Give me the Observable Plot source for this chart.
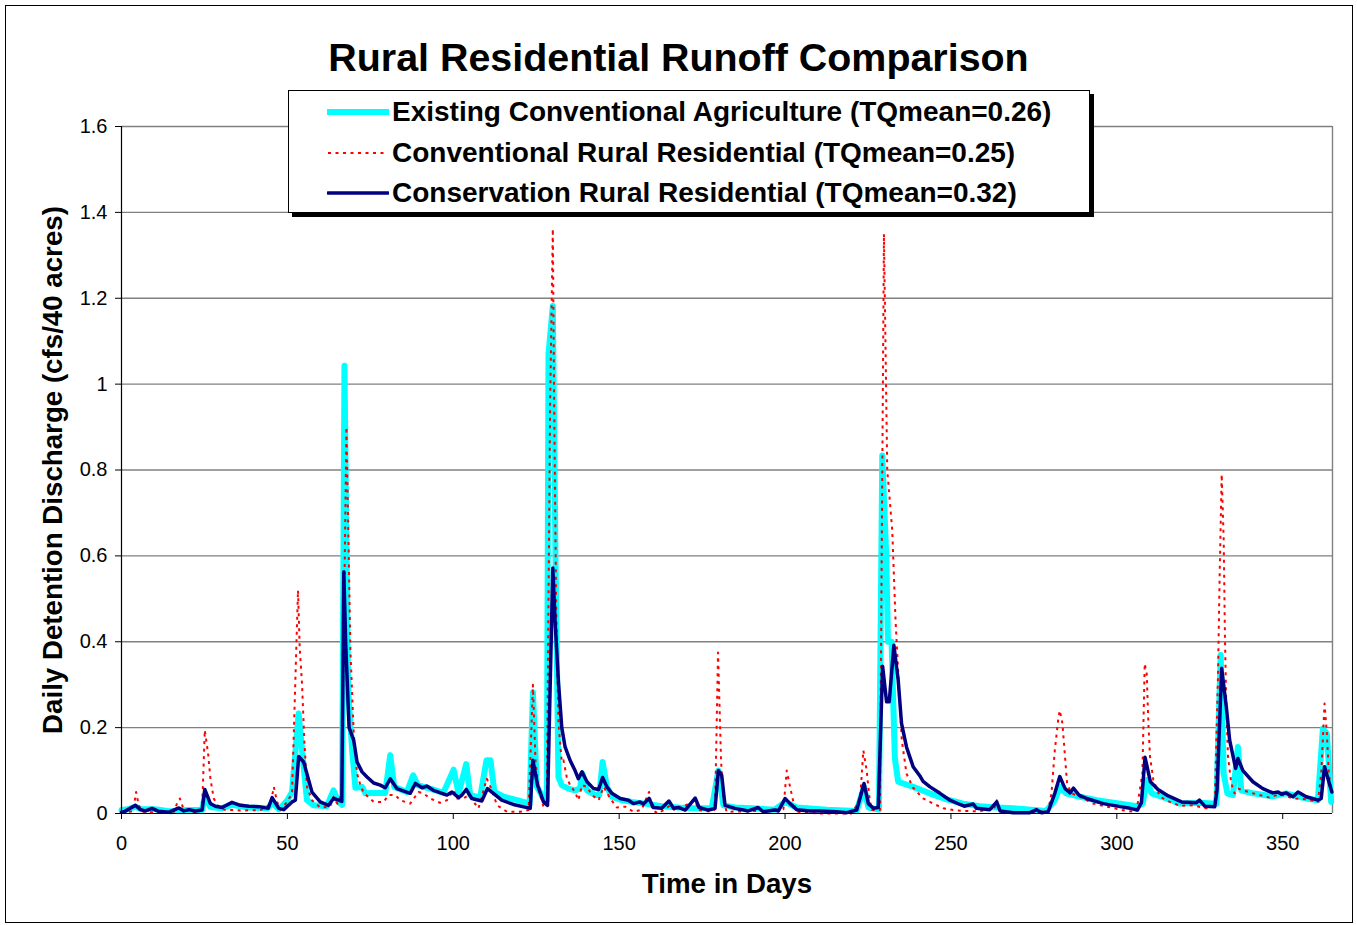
<!DOCTYPE html>
<html><head><meta charset="utf-8">
<script src="https://cdn.jsdelivr.net/npm/d3@7"></script>
<script src="https://cdn.jsdelivr.net/npm/@observablehq/plot@0.6"></script>
<style>
body{margin:0;background:#fff;}
#wrap{position:relative;width:1357px;height:925px;font-family:"Liberation Sans",Arial,sans-serif;color:#000;overflow:hidden;}
#border{position:absolute;left:5px;top:5px;width:1346px;height:916px;border:1px solid #000;pointer-events:none;}
#title{position:absolute;left:0;width:1357px;top:38px;text-align:center;font-weight:bold;font-size:39.4px;line-height:39.4px;white-space:nowrap;}
#legend{position:absolute;left:288px;top:90px;width:800px;height:121px;background:#fff;border:1px solid #000;box-shadow:4px 4px 0 #000;}
.row{position:absolute;left:0;height:28px;line-height:28px;font-weight:bold;font-size:28px;white-space:nowrap;}
.row svg{position:absolute;left:38px;top:0;}
.row span{position:absolute;left:103px;top:0;}
#chart{position:absolute;left:0;top:0;}
</style></head>
<body>
<div id="wrap">
  <div id="chart"></div>
  <div id="title">Rural Residential Runoff Comparison</div>
  <div id="legend"></div>
  <div id="border"></div>
</div>
<script>
// ---- Data ----
const seriesNames = [
  "Existing Conventional Agriculture (TQmean=0.26)",
  "Conventional Rural Residential (TQmean=0.25)",
  "Conservation Rural Residential (TQmean=0.32)"
];
const xTicks = [0, 50, 100, 150, 200, 250, 300, 350];
const yTicks = [0, 0.2, 0.4, 0.6, 0.8, 1.0, 1.2, 1.4, 1.6];
const yTickLabels = ["0", "0.2", "0.4", "0.6", "0.8", "1", "1.2", "1.4", "1.6"];

// Existing Conventional Agriculture (cyan)
const agDays = [0,2,4.2,6,10,15,20,24.3,25.1,26.8,30,33.3,38,44,45.4,47.5,50,51.4,53.4,54.9,55.9,57.9,61.9,63.9,65.4,66.5,67.2,68.3,69.5,70.5,72.5,73.5,76,79.5,81,82.2,86,87.9,89.3,93,97,100.1,101.6,103.9,105.1,108.1,110,111.2,112.4,115.2,119.2,123,124,125.2,127.2,128.2,128.7,130,130.8,131.7,132.7,134.7,136.7,138.2,138.9,140.3,142.8,144,145,146.3,147.8,150.8,153.8,157.8,162.8,167.9,172.9,177.9,179.9,181.4,184.9,189.9,196.9,200,203.5,212.6,221.6,223.8,225.1,228.3,229.3,230.5,231,232.1,233.1,234.1,238.6,243.6,248.7,253.7,258.7,263.8,268.8,278.8,281.3,282.8,284.7,288.9,293.9,299,306,307.8,309,310.5,315,319,324.9,330,331.3,332.2,333.3,335,336.5,337.5,341,347,351,357.1,360.6,362.1,363.3,364.6];
const agValues = [0.008,0.01,0.016,0.01,0.01,0.005,0.008,0.008,0.04,0.015,0.012,0.02,0.014,0.012,0.025,0.01,0.031,0.05,0.233,0.109,0.031,0.019,0.017,0.054,0.027,0.02,1.043,0.29,0.15,0.06,0.062,0.047,0.048,0.048,0.136,0.062,0.05,0.089,0.066,0.058,0.048,0.102,0.047,0.115,0.043,0.037,0.124,0.124,0.05,0.039,0.031,0.023,0.282,0.063,0.035,0.03,1.07,1.182,0.6,0.085,0.066,0.058,0.054,0.058,0.093,0.054,0.043,0.043,0.12,0.062,0.039,0.031,0.027,0.023,0.017,0.014,0.012,0.012,0.1,0.019,0.014,0.012,0.009,0.027,0.014,0.009,0.006,0.062,0.014,0.009,0.834,0.6,0.4,0.4,0.128,0.074,0.062,0.047,0.033,0.023,0.017,0.014,0.012,0.006,0.031,0.062,0.047,0.039,0.031,0.025,0.017,0.023,0.078,0.047,0.035,0.023,0.025,0.023,0.369,0.093,0.047,0.043,0.155,0.054,0.047,0.04,0.047,0.035,0.031,0.198,0.186,0.027];

// Conventional Rural Residential (red dotted)
const convDays = [0,3.5,4.4,5.2,6.2,10,15.8,16.8,17.6,18.8,22,24.3,25.1,26.1,26.8,27.8,29.3,31,36,41.9,44.9,45.9,46.9,47.9,49.9,51.4,53.2,53.7,54.4,55.1,55.9,57.4,59.9,62.9,63.9,65.1,66.4,67.8,69,70,71,72,73,76,79,80.5,82.5,84,87,89.5,91,93,96,98.1,100.1,101.1,103.1,104.6,107.6,110.1,111.2,113.2,116.2,120.2,122.7,124,124.8,125.8,127.2,128.2,129.2,130,130.4,131,131.7,132.7,133.2,134.2,135.2,136.7,137.7,138.8,140.3,141.8,143.8,145.3,147.3,149.3,151.8,154.3,156.8,159,160,161.8,165.4,166.9,172.9,173.9,177.9,178.9,179.8,180.7,181.4,182.4,192.5,199.5,200.5,201.5,202.5,203.5,210,220,222.6,223.6,224.6,225.4,226.1,228.6,229.8,230.8,232.3,233.3,234.3,235.2,236.6,238.6,241.6,244.7,247.7,250.7,253.7,258,263,263.8,264.8,270,279.3,280.3,281.3,282.3,282.8,283.6,284.3,285,286.3,288.9,292.9,296.9,302.9,305.9,307.7,308.4,309,309.5,310,311,313,316,319,322.9,327,329.5,330.5,331,331.6,332.2,332.6,333,333.5,334.5,335.5,336.5,338,341,346,349,353.1,357.1,360.6,361.6,362.6,363.3,363.9,364.6];
const convValues = [0.002,0.005,0.05,0.019,0.004,0.002,0.004,0.025,0.035,0.008,0.003,0.01,0.194,0.14,0.081,0.035,0.014,0.009,0.007,0.008,0.02,0.062,0.027,0.009,0.027,0.047,0.52,0.388,0.303,0.171,0.062,0.031,0.014,0.016,0.039,0.023,0.047,0.9,0.38,0.186,0.093,0.066,0.048,0.027,0.027,0.043,0.043,0.031,0.023,0.05,0.047,0.035,0.025,0.031,0.054,0.035,0.035,0.043,0.012,0.081,0.062,0.019,0.004,0.004,0.008,0.3,0.119,0.053,0.016,0.03,0.96,1.362,0.96,0.49,0.21,0.12,0.124,0.085,0.066,0.05,0.031,0.066,0.062,0.043,0.031,0.062,0.035,0.014,0.016,0.004,0.009,0.05,0.008,0,0.019,0.006,0.031,0.008,0.004,0.01,0.375,0.124,0.031,0.004,0.006,0.01,0.1,0.062,0.027,0.004,0,0,0.031,0.147,0.1,0.039,0.008,0.008,1.35,0.8,0.66,0.45,0.3,0.17,0.093,0.06,0.035,0.023,0.012,0.008,0.006,0.005,0.01,0.031,0.004,0.002,0.006,0.047,0.147,0.217,0.24,0.21,0.14,0.07,0.047,0.039,0.023,0.016,0.006,0.004,0.093,0.349,0.326,0.21,0.132,0.078,0.039,0.027,0.018,0.019,0.012,0.019,0.326,0.56,0.79,0.636,0.404,0.248,0.132,0.07,0.047,0.058,0.054,0.047,0.037,0.045,0.035,0.033,0.027,0.093,0.256,0.186,0.093,0.054];

// Conservation Rural Residential (navy)
const consDays = [0,1,4.2,5.7,7.2,9.2,11.2,14.3,17.3,18.8,20.3,22.3,24.3,25.1,26.8,28.3,30.3,33.3,35.8,38.4,41.4,44.2,45.4,47.4,48.9,51.4,52.4,53.4,54.9,57.4,59.9,62.4,63.9,65.5,66.4,67,67.6,68.6,70,71,72.5,74,76,78,79.5,81,83,87,88.6,90.6,92,94,96.6,98.1,99.6,101.6,102.6,103.9,105.6,108.6,110.3,112.1,114.6,118.1,123.2,124,125.4,127.2,128.4,130,130.7,131.7,132.7,133.7,135.2,136.7,137.7,138.8,140.3,142.3,143.8,145,146.3,147.8,150.3,152.8,154.3,156.3,157.3,159,160.3,162.8,165,166.4,167.9,169.9,172.9,174.1,176.9,178.9,179.9,180.9,181.9,184.9,188.9,191.9,193.4,196.9,198,200,201.5,203.5,207.5,210.5,215.6,218.6,221.6,223.8,225.1,226.6,228.1,229.4,230.6,231.4,232.8,234.1,235.1,236.6,237.6,238.6,240.6,241.6,243.7,246.7,249.7,252.7,254,256.7,257.7,261.7,263.8,264.8,268.8,273.8,275.8,277.3,279.3,281.3,282.8,284.4,285.9,286.9,288.6,290.9,295.9,301,304,306.2,307.4,308.5,310.1,312.4,315.5,319.5,323.9,324.9,326.5,329.5,330.2,331.6,333,334,335.8,336.5,338,341,344,347,348.6,349.6,351,353.1,354.6,357.1,360.6,361.6,362.6,364.8];
const consValues = [0.003,0.005,0.019,0.009,0.006,0.012,0.005,0.003,0.013,0.006,0.009,0.006,0.008,0.056,0.023,0.017,0.014,0.026,0.019,0.017,0.016,0.012,0.037,0.012,0.009,0.027,0.031,0.133,0.12,0.05,0.027,0.019,0.035,0.031,0.028,0.563,0.39,0.2,0.17,0.12,0.097,0.085,0.071,0.066,0.06,0.081,0.058,0.047,0.07,0.06,0.064,0.054,0.047,0.043,0.05,0.037,0.043,0.056,0.035,0.029,0.058,0.047,0.031,0.021,0.012,0.124,0.066,0.027,0.019,0.572,0.446,0.306,0.2,0.155,0.124,0.1,0.081,0.097,0.074,0.058,0.056,0.084,0.062,0.047,0.035,0.031,0.023,0.027,0.022,0.035,0.014,0.012,0.029,0.012,0.014,0.008,0.036,0.014,0.008,0.012,0.1,0.089,0.019,0.012,0.006,0.014,0.004,0.008,0.006,0.035,0.023,0.009,0.006,0.006,0.004,0.002,0.008,0.07,0.023,0.012,0.014,0.343,0.26,0.26,0.392,0.31,0.21,0.155,0.132,0.109,0.088,0.075,0.062,0.047,0.031,0.021,0.017,0.022,0.012,0.009,0.027,0.006,0.002,0.002,0.009,0.002,0.004,0.047,0.086,0.058,0.048,0.059,0.043,0.035,0.023,0.016,0.012,0.008,0.025,0.131,0.074,0.056,0.041,0.027,0.025,0.031,0.017,0.016,0.054,0.338,0.248,0.171,0.105,0.128,0.1,0.074,0.058,0.048,0.05,0.045,0.048,0.039,0.05,0.039,0.031,0.035,0.109,0.05];

const seriesColors = ["#00FFFF", "#FF0000", "#000080"];
const seriesWidths = [6, 2, 3.5];
const seriesDash = [null, "3,4.5", null];

// ---- Build tables ----
const rows = (days, vals) => days.map((d, i) => ({day: d, value: vals[i]}));
const tables = [rows(agDays, agValues), rows(convDays, convValues), rows(consDays, consValues)];

const lineMarks = tables.map((t, k) => Plot.lineY(t, {
  x: "day", y: "value",
  stroke: seriesColors[k], strokeWidth: seriesWidths[k],
  strokeDasharray: seriesDash[k] || undefined,
  strokeLinejoin: "round", strokeLinecap: seriesDash[k] ? "butt" : "round"
}));

const chart = Plot.plot({
  width: 1357, height: 925,
  marginLeft: 121, marginRight: 25, marginTop: 126, marginBottom: 112,
  style: {fontFamily: "'Liberation Sans', Arial, sans-serif", fontSize: "20px", background: "transparent", color: "#000"},
  x: {domain: [0, 365]},
  y: {domain: [0, 1.6]},
  marks: [
    Plot.ruleY(yTicks.filter(v => v > 0), {stroke: "#808080", strokeWidth: 1.4}),
    Plot.ruleX([365], {stroke: "#808080", strokeWidth: 1.4}),
    ...lineMarks,
    Plot.ruleY([0], {stroke: "#000", strokeWidth: 1.2}),
    Plot.ruleX([0], {stroke: "#000", strokeWidth: 1.2}),
    Plot.axisX({ticks: xTicks, tickSize: 6, tickPadding: 16, label: null, tickFormat: d => String(d), fontSize: 20}),
    Plot.axisY({ticks: yTicks, tickSize: 6, tickPadding: 8, label: null, tickFormat: d => yTickLabels[yTicks.indexOf(d)], fontSize: 20}),
    Plot.text(["Time in Days"], {frameAnchor: "bottom", dy: 71, lineAnchor: "middle", textAnchor: "middle", fontSize: 27.7, fontWeight: "bold", fill: "#000"}),
    Plot.text(["Daily Detention Discharge (cfs/40 acres)"], {frameAnchor: "left", dx: -68, rotate: -90, lineAnchor: "middle", textAnchor: "middle", fontSize: 27.7, fontWeight: "bold", fill: "#000"})
  ]
});
document.getElementById("chart").appendChild(chart);

// ---- Legend ----
const legend = document.getElementById("legend");
const rowCenters = [21, 62, 102];
seriesNames.forEach((name, k) => {
  const row = document.createElement("div");
  row.className = "row";
  row.style.top = (rowCenters[k] - 14) + "px";
  const dash = seriesDash[k] ? `stroke-dasharray="${seriesDash[k]}"` : "";
  row.innerHTML = `<svg width="62" height="28"><line x1="1" x2="61" y1="14" y2="14" stroke="${seriesColors[k]}" stroke-width="${seriesWidths[k]}" ${dash} stroke-linecap="${seriesDash[k] ? "butt" : "round"}"/></svg><span>${name}</span>`;
  legend.appendChild(row);
});
</script>
</body></html>
